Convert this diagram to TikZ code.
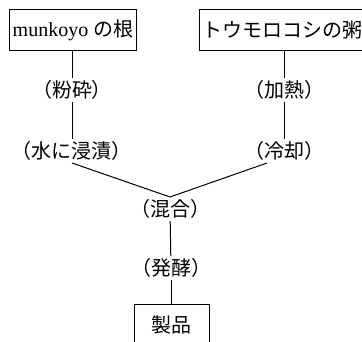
\documentclass[tikz,border=0pt]{standalone}
\usepackage{fontspec}
\setmainfont{Liberation Serif}
\newfontfamily\jp{Noto Sans CJK JP}
\usepackage{tikz}

\begin{document}
\begin{tikzpicture}[x=1pt,y=-1pt,line width=1pt,font=\fontsize{20}{24}\selectfont,
	stuff/.style={shape=rectangle,draw=black,inner xsep=3pt,inner ysep=0pt,minimum height=41pt},
	proc/.style={inner sep=2pt,font=\fontsize{20}{24}\selectfont\jp}]
	\clip (0,0) rectangle (362,342);

	\node[stuff] (root) at (73,30.5) {munkoyo {\jp の根}};
	\node[stuff] (corn) at (282,30.5) {\jp トウモロコシの粥};
	\node[proc] (grind) at (72,90) {（粉砕）};
	\node[proc] (soak) at (72,151) {（水に浸漬）};
	\node[proc] (heat) at (284,90) {（加熱）};
	\node[proc] (cool) at (284,151) {（冷却）};
	\node[proc] (mix) at (170,209) {（混合）};
	\node[proc] (ferm) at (171,268) {（発酵）};
	\node[stuff,minimum width=75pt] (prod) at (171.5,325) {\jp 製品};

	\path [-] (root.south -| grind) edge (grind);
	\path [-] (grind) edge (soak);
	\path [-] (corn.south -| heat) edge (heat);
	\path [-] (heat) edge (cool);
	\path [-] (soak.south) edge (mix.north);
	\path [-] ([xshift=-17pt]cool.south) edge (mix.north);
	\path [-] (mix) edge (ferm);
	\path [-] (ferm) edge (prod.north -| ferm);
\end{tikzpicture}
\end{document}
